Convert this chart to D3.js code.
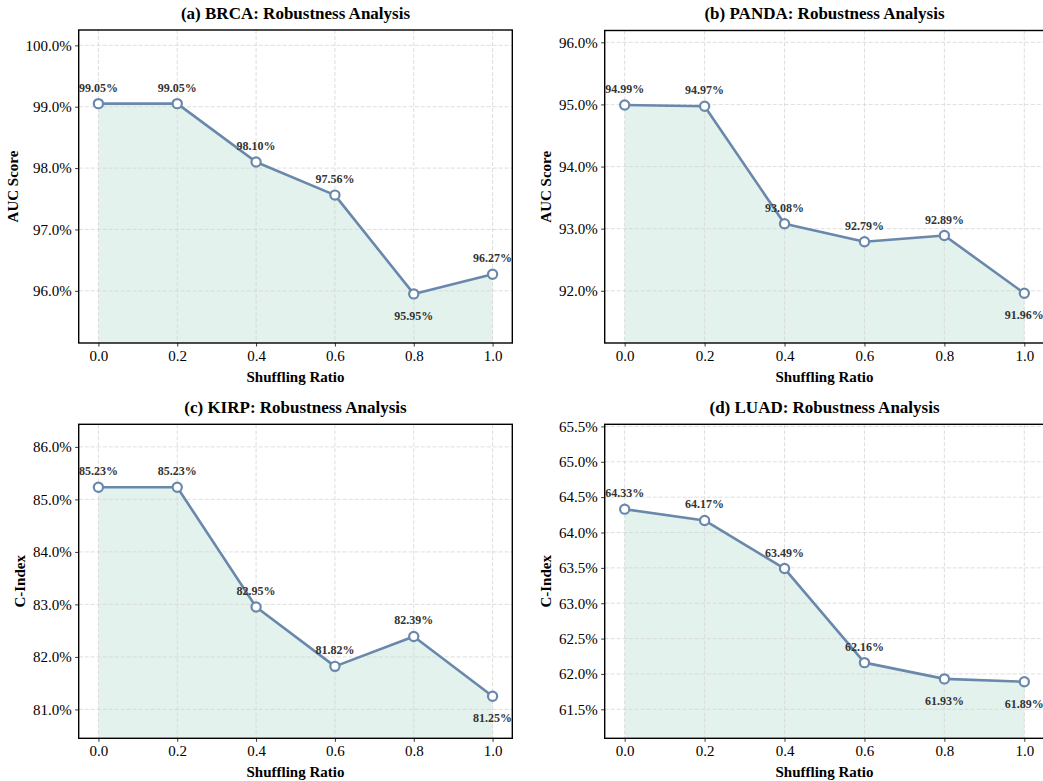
<!DOCTYPE html>
<html>
<head>
<meta charset="utf-8">
<script src="https://cdn.jsdelivr.net/npm/d3@7"></script>
<style>
	body { margin: 0; background: #fff; }
	svg { display: block; font-family: "Liberation Serif", "Times New Roman", serif; }
</style>
</head>
<body>
<div id="chart"></div>
<script>
// shared x values
const ratios = [0.0, 0.2, 0.4, 0.6, 0.8, 1.0];
const xTicks = [0.0, 0.2, 0.4, 0.6, 0.8, 1.0];

// one array of scores per dataset (percent)
const brcaAuc = [99.05, 99.05, 98.10, 97.56, 95.95, 96.27];
const pandaAuc = [94.99, 94.97, 93.08, 92.79, 92.89, 91.96];
const kirpCIndex = [85.23, 85.23, 82.95, 81.82, 82.39, 81.25];
const luadCIndex = [64.33, 64.17, 63.49, 62.16, 61.93, 61.89];

const brcaTicks = [96, 97, 98, 99, 100];
const pandaTicks = [92, 93, 94, 95, 96];
const kirpTicks = [81, 82, 83, 84, 85, 86];
const luadTicks = [61.5, 62, 62.5, 63, 63.5, 64, 64.5, 65, 65.5];

const titles = [
	"(a) BRCA: Robustness Analysis",
	"(b) PANDA: Robustness Analysis",
	"(c) KIRP: Robustness Analysis",
	"(d) LUAD: Robustness Analysis"
];
const yLabels = ["AUC Score", "AUC Score", "C-Index", "C-Index"];

const width = 1043, height = 781;
const lineColor = "#6a88ab";
const fillColor = "#e3f2ec";

const svg = d3.select("#chart").append("svg")
	.attr("width", width)
	.attr("height", height);

// axes boxes (pixels)
const boxes = [
	{left: 78.7, right: 512.3, top: 30, bottom: 343},
	{left: 604.7, right: 1044.3, top: 30.5, bottom: 343},
	{left: 78.7, right: 512.3, top: 424.3, bottom: 738.3},
	{left: 604.7, right: 1044.3, top: 424.3, bottom: 738.3}
];

const panels = [
	{values: brcaAuc, ticks: brcaTicks},
	{values: pandaAuc, ticks: pandaTicks},
	{values: kirpCIndex, ticks: kirpTicks},
	{values: luadCIndex, ticks: luadTicks}
];

panels.forEach((p, i) => drawPanel(p, boxes[i], titles[i], yLabels[i], i));

function drawPanel(panel, box, title, yLabel, idx) {
	let values = panel.values;
	let minV = d3.min(values), maxV = d3.max(values);

	let x = d3.scaleLinear().domain([-0.05, 1.05]).range([box.left, box.right]);
	let y = d3.scaleLinear().domain([minV - 0.8, maxV + 1.2]).range([box.bottom, box.top]);

	let g = svg.append("g");
	let clipId = "clip" + idx;
	g.append("clipPath").attr("id", clipId)
		.append("rect")
		.attr("x", box.left).attr("y", box.top)
		.attr("width", box.right - box.left)
		.attr("height", box.bottom - box.top);

	let inner = g.append("g").attr("clip-path", "url(#" + clipId + ")");

	// area under curve
	let area = d3.area()
		.x((d, j) => x(ratios[j]))
		.y0(box.bottom)
		.y1(d => y(d));
	inner.append("path")
		.attr("d", area(values))
		.attr("fill", fillColor);

	// grid
	inner.selectAll("line.gy")
		.data(panel.ticks)
		.enter().append("line")
		.attr("x1", box.left).attr("x2", box.right)
		.attr("y1", d => y(d)).attr("y2", d => y(d))
		.style("stroke", "#d6d6d6")
		.style("stroke-width", 0.8)
		.style("stroke-dasharray", "4,2");

	inner.selectAll("line.gx")
		.data(xTicks)
		.enter().append("line")
		.attr("x1", d => x(d)).attr("x2", d => x(d))
		.attr("y1", box.top).attr("y2", box.bottom)
		.style("stroke", "#d6d6d6")
		.style("stroke-width", 0.8)
		.style("stroke-dasharray", "4,2");

	// line + markers
	let line = d3.line()
		.x((d, j) => x(ratios[j]))
		.y(d => y(d));
	inner.append("path")
		.attr("d", line(values))
		.style("fill", "none")
		.style("stroke", lineColor)
		.style("stroke-width", 2.6)
		.style("stroke-linejoin", "round");

	inner.selectAll("circle")
		.data(values)
		.enter().append("circle")
		.attr("cx", (d, j) => x(ratios[j]))
		.attr("cy", d => y(d))
		.attr("r", 4.6)
		.style("fill", "#fff")
		.style("stroke", lineColor)
		.style("stroke-width", 2.2);

	// value labels (lowest values go underneath)
	g.selectAll("text.val")
		.data(values)
		.enter().append("text")
		.attr("x", (d, j) => x(ratios[j]))
		.attr("y", d => (d - minV < 0.1) ? y(d) + 26 : y(d) - 12)
		.attr("text-anchor", "middle")
		.style("font-size", "12px")
		.style("font-weight", "bold")
		.style("fill", "#333")
		.text(d => d.toFixed(2) + "%");

	// axes
	let yAxis = d3.axisLeft(y)
		.tickValues(panel.ticks)
		.tickFormat(d => d.toFixed(1) + "%")
		.tickSize(3.5)
		.tickPadding(3.5);
	let yg = g.append("g")
		.attr("transform", "translate(" + box.left + ",0)")
		.call(yAxis);

	let xAxis = d3.axisBottom(x)
		.tickValues(xTicks)
		.tickFormat(d3.format(".1f"))
		.tickSize(3.5)
		.tickPadding(4);
	let xg = g.append("g")
		.attr("transform", "translate(0," + box.bottom + ")")
		.call(xAxis);

	[yg, xg].forEach(a => {
		a.select(".domain").remove();
		a.selectAll(".tick line").style("stroke", "#000").style("stroke-width", 0.8);
		a.selectAll(".tick text")
			.style("font-family", "Liberation Serif, serif")
			.style("font-size", "15px")
			.style("fill", "#000");
	});

	// frame
	g.append("rect")
		.attr("x", box.left).attr("y", box.top)
		.attr("width", box.right - box.left)
		.attr("height", box.bottom - box.top)
		.style("fill", "none")
		.style("stroke", "#000")
		.style("stroke-width", 1.4);

	// title and axis labels
	g.append("text")
		.attr("x", (box.left + box.right) / 2)
		.attr("y", box.top - 11.5)
		.attr("text-anchor", "middle")
		.style("font-size", "17px")
		.style("font-weight", "bold")
		.text(title);

	g.append("text")
		.attr("x", (box.left + box.right) / 2)
		.attr("y", box.bottom + 38.5)
		.attr("text-anchor", "middle")
		.style("font-size", "15px")
		.style("font-weight", "bold")
		.text("Shuffling Ratio");

	let maxW = d3.max(yg.selectAll(".tick text").nodes(), n => n.getBBox().width);
	let lx = box.left - 7 - maxW - 13;
	g.append("text")
		.attr("transform", "translate(" + lx + "," + ((box.top + box.bottom) / 2) + ") rotate(-90)")
		.attr("text-anchor", "middle")
		.attr("dy", "0.35em")
		.style("font-size", "15px")
		.style("font-weight", "bold")
		.text(yLabel);
}
</script>
</body>
</html>
